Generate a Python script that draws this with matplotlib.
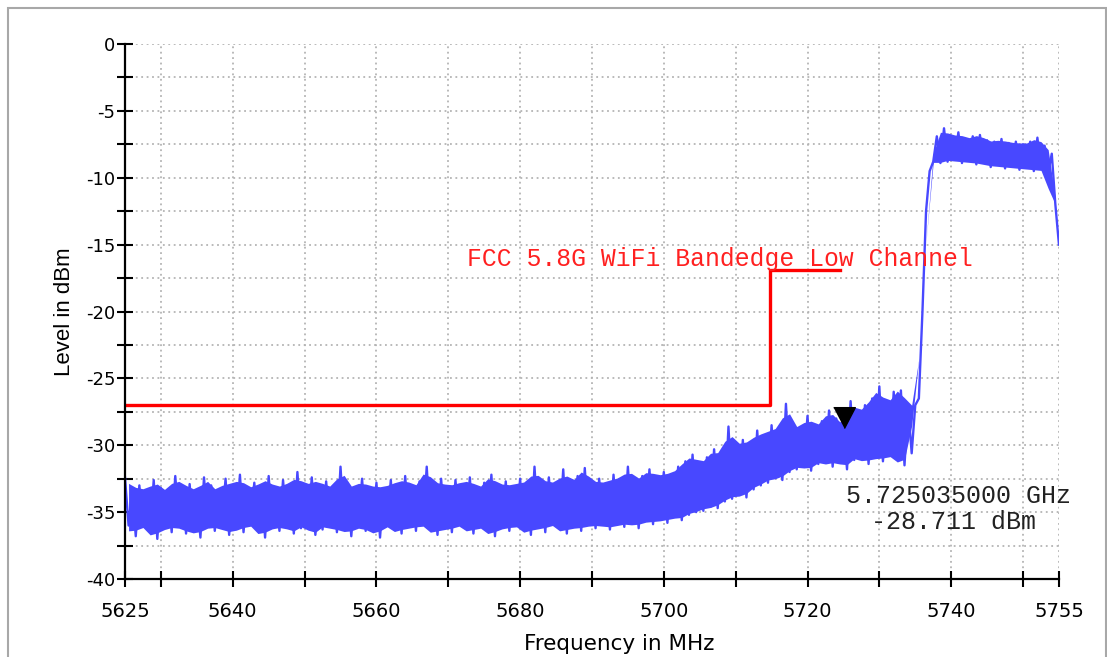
import numpy as np
import matplotlib
matplotlib.use("Agg")
import matplotlib.pyplot as plt
from matplotlib.patches import Rectangle

# trace: 0.5 MHz steps from 5625 to 5755 MHz
# (peaks on the whole MHz, dips on the half MHz)
freq_start, freq_stop, freq_step = 5625, 5755, 0.5
level_dbm = [
    -32.4, -36.0, -33.3, -36.8, -33.0, -35.9, -33.5, -36.4, -32.6, -37.0,
    -33.2, -36.1, -33.4, -36.5, -32.3, -35.8, -33.1, -36.6, -32.9, -36.2,
    -33.6, -36.9, -32.4, -36.0, -33.0, -36.4, -33.5, -35.9, -32.5, -36.7,
    -33.2, -36.2, -32.2, -36.5, -33.4, -35.8, -32.8, -36.3, -33.0, -36.9,
    -32.3, -36.1, -33.5, -36.4, -32.6, -35.9, -33.1, -36.6, -32.0, -36.2,
    -33.3, -36.0, -32.4, -36.7, -33.0, -36.3, -32.7, -35.9, -33.4, -36.5,
    -31.6, -36.1, -32.9, -36.8, -33.2, -36.0, -32.5, -36.4, -33.3, -36.2,
    -32.8, -36.9, -33.4, -35.9, -32.6, -36.3, -33.0, -36.6, -32.3, -36.0,
    -33.2, -36.4, -32.7, -35.8, -31.6, -36.3, -33.1, -36.7, -32.5, -36.1,
    -33.3, -36.5, -32.6, -35.9, -33.0, -36.2, -32.4, -36.6, -33.3, -36.0,
    -32.8, -36.4, -32.2, -36.8, -33.1, -36.1, -32.7, -36.4, -33.2, -35.9,
    -32.5, -36.3, -33.0, -36.7, -31.6, -36.0, -32.9, -36.5, -32.4, -35.8,
    -33.1, -36.2, -31.8, -36.6, -32.8, -36.0, -32.3, -36.4, -31.7, -35.9,
    -32.9, -36.2, -32.5, -35.8, -33.0, -36.3, -32.2, -35.9, -32.7, -36.1,
    -31.6, -35.7, -32.6, -36.2, -32.3, -35.6, -31.8, -35.9, -32.4, -35.5,
    -32.0, -35.8, -32.2, -35.3, -31.6, -35.6, -31.2, -35.2, -30.7, -35.0,
    -31.4, -34.9, -30.9, -34.6, -30.3, -34.7, -30.8, -34.2, -28.6, -34.0,
    -30.1, -33.7, -29.6, -33.9, -29.9, -33.3, -28.9, -33.0, -29.4, -32.8,
    -28.5, -32.4, -29.0, -32.6, -26.9, -32.0, -28.4, -31.8, -28.8, -31.5,
    -27.8, -31.9, -28.6, -31.4, -28.2, -31.2, -27.4, -31.6, -28.0, -31.0,
    -28.5, -31.8, -26.7, -31.1, -27.6, -30.9, -27.0, -31.4, -26.5, -30.8,
    -25.6, -31.2, -27.2, -30.7, -26.0, -31.0, -25.9, -31.5, -27.0, -30.6,
    -27.0, -26.5, -20.0, -12.5, -9.5, -8.8, -6.9, -8.9, -6.3, -8.8,
    -7.0, -8.6, -6.6, -8.9, -7.1, -8.7, -6.9, -9.0, -6.8, -8.8,
    -7.2, -9.2, -7.3, -9.0, -7.1, -9.3, -7.4, -9.1, -7.3, -9.4,
    -7.5, -9.2, -7.3, -9.5, -7.0, -9.3, -7.6, -9.6, -8.2, -12.0,
    -15.0,
]

limit_freq = [5625, 5714.8, 5714.8, 5724.5]
limit_dbm = [-27.0, -27.0, -16.9, -16.9]
limit_label = "FCC 5.8G WiFi Bandedge Low Channel"

marker_freq = 5725.035
marker_dbm = -28.711

xticks = [5625] + list(range(5630, 5751, 10)) + [5755]
xtick_labels = ["5625", "", "5640", "", "5660", "", "5680", "", "5700", "",
                "5720", "", "5740", "", "5755"]
yticks = np.arange(-40, 0.1, 2.5)

freq = np.arange(freq_start, freq_stop + freq_step / 2, freq_step)
lv = np.array(level_dbm)
peaks, dips = lv[0::2], lv[1::2]
# solid core of the noise band: mean of neighbouring peaks / neighbouring dips
core_top = (peaks[:-1] + peaks[1:]) / 2
core_bot = (dips + np.concatenate([dips[1:], dips[-1:]])) / 2
core_bot = np.minimum(core_bot, core_top)

fig = plt.figure(figsize=(11.07, 6.57), dpi=100)
ax = fig.add_axes([0.1129, 0.1187, 0.8437, 0.8143])

# outer grey frame
fig.patches.append(Rectangle((8 / 1107, -0.05), 1098 / 1107, 1.05 - 8 / 657,
                             transform=fig.transFigure, fill=False,
                             edgecolor="#a8a8a8", lw=1.5))

ax.fill_between(freq[1::2], core_bot, core_top, color="#4848ff", lw=0, zorder=3)
ax.plot(freq, lv, color="#4848ff", lw=1.7, zorder=3)
ax.plot(limit_freq, limit_dbm, color="#ff0000", lw=2.4, zorder=4)

ax.plot([marker_freq], [marker_dbm], linestyle="none", color="black",
        marker=[(-0.52, 1), (0.52, 1), (0, 0)], markersize=30, zorder=5)

ax.text(5672.6, -16.6, limit_label, color="#ff2020", fontsize=17.8,
        family="Liberation Mono", ha="left", va="baseline", zorder=6)
ax.text(5725.35, -34.3, "5.725035000 GHz", color="#222222", fontsize=18,
        family="Liberation Mono", ha="left", va="baseline", zorder=6)
ax.text(5728.8, -36.26, "-28.711 dBm", color="#222222", fontsize=18,
        family="Liberation Mono", ha="left", va="baseline", zorder=6)

ax.set_xlim(5625, 5755)
ax.set_ylim(-40, 0)
ax.set_xticks(xticks)
ax.set_xticklabels(xtick_labels, family="DejaVu Sans", fontsize=14)
ax.set_yticks(yticks)
ax.set_yticklabels([f"{v:g}" if v % 5 == 0 else "" for v in yticks],
                   family="DejaVu Sans", fontsize=13)
ax.tick_params(axis="both", direction="inout", length=11, width=1.5, color="black")
ax.tick_params(axis="x", pad=11)
ax.tick_params(axis="y", pad=1.5)

for s in ("top", "right"):
    ax.spines[s].set_visible(False)
for s in ("left", "bottom"):
    ax.spines[s].set_linewidth(1.6)
    ax.spines[s].set_zorder(7)

ax.grid(True, color="#b4b4b4", linestyle=(0, (1, 2)), lw=1.3, zorder=0)

ax.set_xlabel("Frequency in MHz", family="DejaVu Sans", fontsize=15.5)
ax.xaxis.set_label_coords(0.529, -0.102)
ax.set_ylabel("Level in dBm", family="Liberation Sans", fontsize=16, labelpad=8)

fig.savefig("out.png", dpi=100)
